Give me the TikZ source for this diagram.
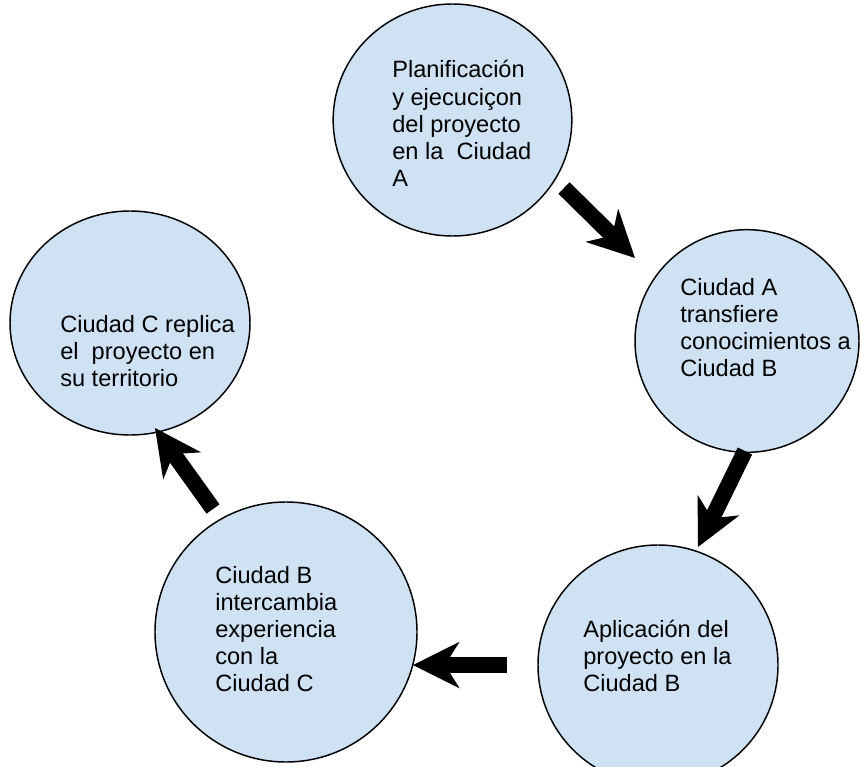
\documentclass[tikz,border=0pt]{standalone}
\usepackage{fontspec}
\setmainfont{Liberation Sans}
\usetikzlibrary{shapes.geometric,arrows.meta}
\definecolor{bubblefill}{HTML}{CFE2F3}
\begin{document}
\begin{tikzpicture}[x=0.75pt,y=-0.75pt,
  bubble/.style={ellipse, draw=black, line width=1.1pt, fill=bubblefill, inner sep=0pt},
  lbl/.style={anchor=base west, inner sep=0pt, font=\fontsize{17.7pt}{20.4pt}\selectfont},
  bigarrow/.style={line width=12pt, -{Stealth[length=35pt, width=35pt, inset=11pt, line width=0pt]}}]
\clip (0,0) rectangle (861,767);
% bubbles
\node[bubble, minimum width=179pt, minimum height=174pt] (plan) at (452.5,120) {};
\node[bubble, minimum width=168pt, minimum height=167pt] (transf) at (747,341) {};
\node[bubble, minimum width=180pt, minimum height=180pt] (aplic) at (658,665) {};
\node[bubble, minimum width=196.5pt, minimum height=195pt] (interc) at (286,632) {};
\node[bubble, minimum width=180pt, minimum height=168pt] (replica) at (130,323) {};
% texts
\node[lbl] (t1) at (392,78) {\begin{tabular}[t]{@{}l@{}}Planificación\\ y ejecuciçon\\ del proyecto\\ en la~~Ciudad\\ A\end{tabular}};
\node[lbl] (t2) at (680,295) {\begin{tabular}[t]{@{}l@{}}Ciudad A\\ transfiere\\ conocimientos a\\ Ciudad B\end{tabular}};
\node[lbl] (t3) at (583,637) {\begin{tabular}[t]{@{}l@{}}Aplicación del\\ proyecto en la\\ Ciudad B\end{tabular}};
\node[lbl] (t4) at (215,583) {\begin{tabular}[t]{@{}l@{}}Ciudad B\\ intercambia\\ experiencia\\ con la\\ Ciudad C\end{tabular}};
\node[lbl] (t5) at (60,332) {\begin{tabular}[t]{@{}l@{}}Ciudad C replica\\ el~~proyecto en\\ su territorio\end{tabular}};
% arrows
\coordinate (a1s) at (564,188); \coordinate (a1e) at (635,258);
\coordinate (a2s) at (745,451); \coordinate (a2e) at (698,547);
\coordinate (a3s) at (507,665); \coordinate (a3e) at (413,665);
\coordinate (a4s) at (213,509); \coordinate (a4e) at (155,428);
\draw[bigarrow] (a1s) -- (a1e);
\draw[bigarrow] (a2s) -- (a2e);
\draw[bigarrow] (a3s) -- (a3e);
\draw[bigarrow] (a4s) -- (a4e);
\end{tikzpicture}
\end{document}
